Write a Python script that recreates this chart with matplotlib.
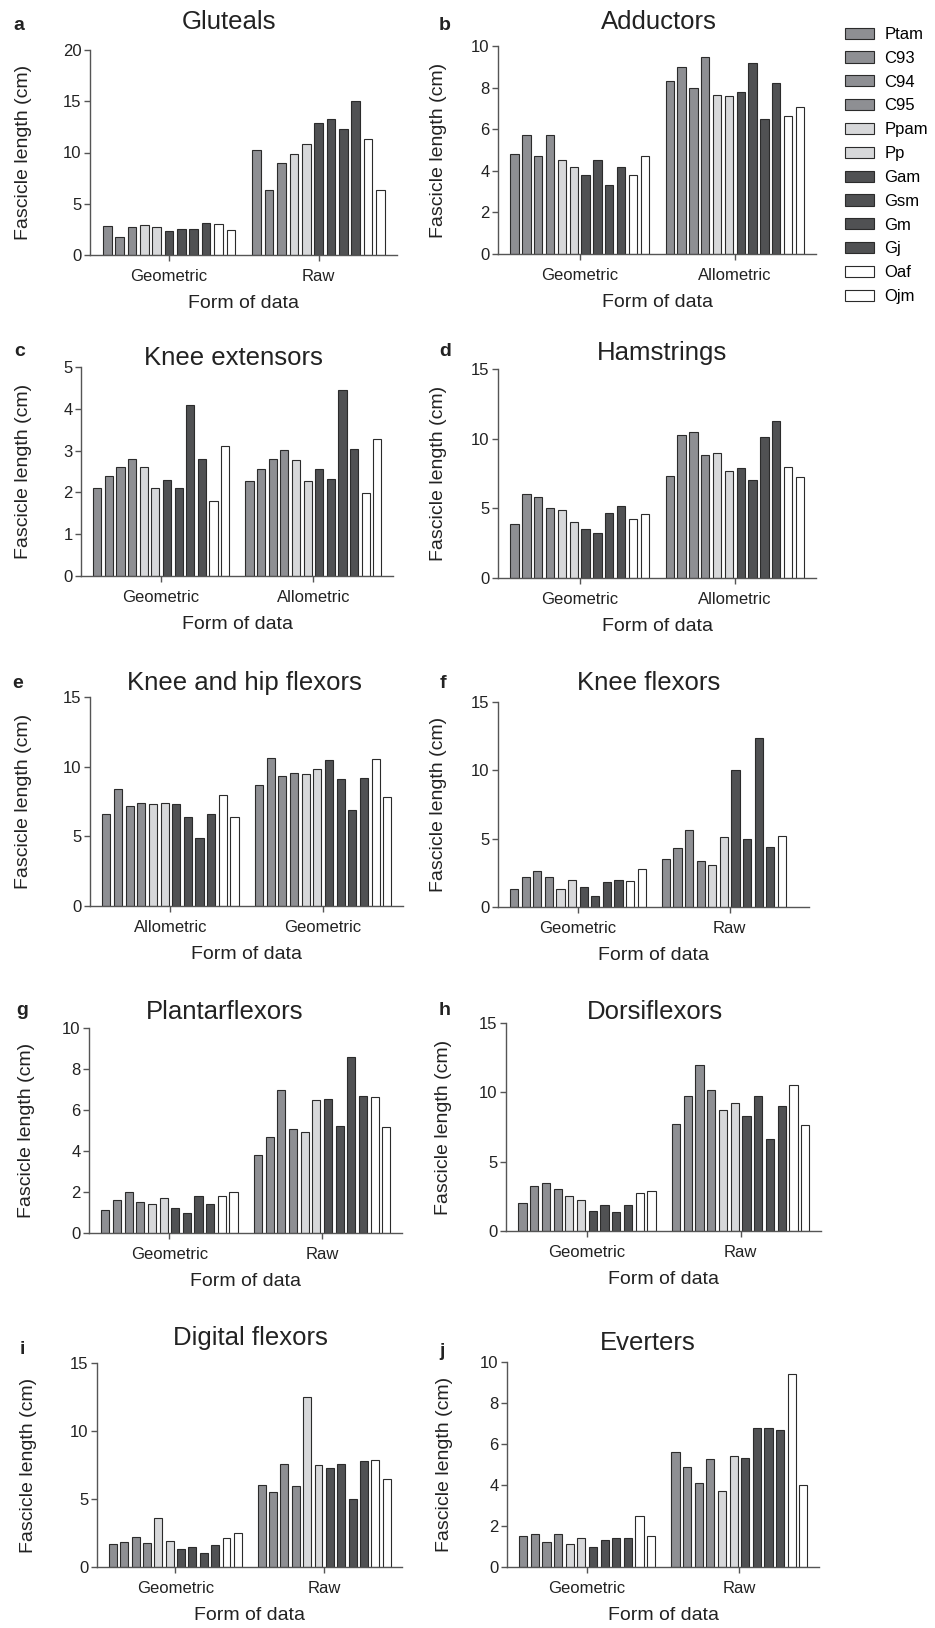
import numpy as np
import matplotlib
matplotlib.use("Agg")
import matplotlib.pyplot as plt

plt.rcParams['font.family'] = ['Liberation Sans', 'DejaVu Sans']

nan = np.nan

# ------------------ data ------------------
species = ['Ptam', 'C93', 'C94', 'C95', 'Ppam', 'Pp',
           'Gam', 'Gsm', 'Gm', 'Gj', 'Oaf', 'Ojm']
MID, LIGHT, DARK, WHITE = '#8e8f93', '#d7d8da', '#505153', '#ffffff'
species_colors = [MID] * 4 + [LIGHT] * 2 + [DARK] * 4 + [WHITE] * 2

gluteals_groups = ['Geometric', 'Raw']
gluteals_geo = [2.8, 1.8, 2.7, nan, 2.9, 2.7, 2.3, 2.5, 2.5, 3.1, 3.0, 2.4]
gluteals_raw = [10.2, 6.3, 9.0, nan, 9.9, 10.8, 12.9, 13.3, 12.3, 15.0, 11.3, 6.3]

adductors_groups = ['Geometric', 'Allometric']
adductors_geo = [4.8, 5.7, 4.7, 5.7, 4.5, 4.2, 3.8, 4.5, 3.3, 4.2, 3.8, 4.7]
adductors_allo = [8.3, 9.0, 8.0, 9.45, 7.65, 7.62, 7.8, 9.2, 6.5, 8.2, 6.65, 7.05]

kneeext_groups = ['Geometric', 'Allometric']
kneeext_geo = [2.1, 2.4, 2.6, 2.8, 2.6, 2.1, 2.3, 2.1, 4.1, 2.8, 1.8, 3.1]
kneeext_allo = [2.28, 2.56, 2.8, 3.02, 2.77, 2.28, 2.55, 2.31, 4.46, 3.04, 1.99, 3.27]

hams_groups = ['Geometric', 'Allometric']
hams_geo = [3.9, 6.0, 5.8, 5.0, 4.9, 4.0, 3.5, 3.2, 4.7, 5.2, 4.2, 4.6]
hams_allo = [7.3, 10.25, 10.5, 8.85, 8.95, 7.7, 7.9, 7.05, 10.15, 11.25, 7.95, 7.25]

kneehip_groups = ['Allometric', 'Geometric']
kneehip_allo = [6.6, 8.4, 7.2, 7.4, 7.3, 7.4, 7.3, 6.4, 4.9, 6.6, 8.0, 6.4]
kneehip_geo = [8.7, 10.6, 9.35, 9.55, 9.45, 9.85, 10.45, 9.1, 6.9, 9.2, 10.55, 7.8]

kneeflex_groups = ['Geometric', 'Raw']
kneeflex_geo = [1.3, 2.2, 2.6, 2.2, 1.3, 2.0, 1.5, 0.8, 1.8, 2.0, 1.9, 2.8]
kneeflex_raw = [3.5, 4.3, 5.6, 3.4, 3.1, 5.1, 10.0, 5.0, 12.4, 4.4, 5.2, nan]

plantar_groups = ['Geometric', 'Raw']
plantar_geo = [1.1, 1.6, 2.0, 1.5, 1.4, 1.7, 1.2, 1.0, 1.8, 1.4, 1.8, 2.0]
plantar_raw = [3.8, 4.7, 7.0, 5.05, 4.93, 6.5, 6.55, 5.22, 8.6, 6.68, 6.65, 5.17]

dorsi_groups = ['Geometric', 'Raw']
dorsi_geo = [2.0, 3.25, 3.45, 3.05, 2.5, 2.25, 1.45, 1.85, 1.35, 1.85, 2.75, 2.85]
dorsi_raw = [7.7, 9.75, 11.95, 10.2, 8.7, 9.2, 8.3, 9.75, 6.6, 9.05, 10.55, 7.65]

digital_groups = ['Geometric', 'Raw']
digital_geo = [1.7, 1.85, 2.2, 1.8, 3.6, 1.9, 1.3, 1.5, 1.0, 1.6, 2.1, 2.5]
digital_raw = [6.0, 5.55, 7.6, 5.95, 12.5, 7.5, 7.25, 7.6, 5.0, 7.8, 7.9, 6.45]

everters_groups = ['Geometric', 'Raw']
everters_geo = [1.5, 1.6, 1.2, 1.6, 1.1, 1.4, 1.0, 1.3, 1.4, 1.4, 2.5, 1.5]
everters_raw = [5.62, 4.9, 4.12, 5.27, 3.72, 5.4, 5.3, 6.8, 6.8, 6.7, 9.4, 4.0]

panels = [
    ('a', 'Gluteals', gluteals_groups, [gluteals_geo, gluteals_raw], 20, 5),
    ('b', 'Adductors', adductors_groups, [adductors_geo, adductors_allo], 10, 2),
    ('c', 'Knee extensors', kneeext_groups, [kneeext_geo, kneeext_allo], 5, 1),
    ('d', 'Hamstrings', hams_groups, [hams_geo, hams_allo], 15, 5),
    ('e', 'Knee and hip flexors', kneehip_groups, [kneehip_allo, kneehip_geo], 15, 5),
    ('f', 'Knee flexors', kneeflex_groups, [kneeflex_geo, kneeflex_raw], 15, 5),
    ('g', 'Plantarflexors', plantar_groups, [plantar_geo, plantar_raw], 10, 2),
    ('h', 'Dorsiflexors', dorsi_groups, [dorsi_geo, dorsi_raw], 15, 5),
    ('i', 'Digital flexors', digital_groups, [digital_geo, digital_raw], 15, 5),
    ('j', 'Everters', everters_groups, [everters_geo, everters_raw], 10, 2),
]

# ------------------ layout (pixels) ------------------
W, H = 935, 1628
# left, right, top, bottom of each axes
ax_px = [(90, 397, 50, 255), (498, 816, 46, 254),
         (81, 393, 367, 576), (498, 816, 369, 578),
         (90, 403, 697, 906), (498, 809, 702, 907),
         (89, 402, 1028, 1233), (506, 821, 1023, 1231),
         (97, 402, 1363, 1567), (507, 819, 1362, 1567)]
title_px = [(229, 22), (659, 22), (233, 358), (662, 353), (244, 683),
            (649, 683), (225, 1012), (655, 1012), (250, 1338), (648, 1343)]
letter_px = [(19, 25), (445, 25), (20, 351), (445, 351), (18, 684),
             (443, 684), (22, 1010), (445, 1010), (22, 1350), (442, 1352)]
ylab_px = [32, 447, 32, 447, 32, 447, 35, 452, 37, 453]

fig = plt.figure(figsize=(W / 100, H / 100), dpi=100)
EDGE = '#2b2b2b'
AXC = '#555555'

handles = None
for k, (letter, title, groups, vals, ymax, ystep) in enumerate(panels):
    l, r, t, b = ax_px[k]
    ax = fig.add_axes([l / W, 1 - b / H, (r - l) / W, (b - t) / H])
    data = np.array(vals, dtype=float)
    # drop series absent from every group
    keep = [i for i in range(len(species)) if not np.all(np.isnan(data[:, i]))]
    n = len(keep)
    p = 1.0 / (n + 1.1)
    bars = []
    for j, i in enumerate(keep):
        x = np.arange(len(groups)) - n * p / 2 + (j + 0.5) * p
        bc = ax.bar(x, np.nan_to_num(data[:, i]), width=0.7 * p,
                    color=species_colors[i], edgecolor=EDGE, linewidth=0.8,
                    label=species[i])
        for rect, v in zip(bc, data[:, i]):
            if np.isnan(v):
                rect.set_visible(False)
        bars.append(bc)
    if handles is None and len(bars) == 12:
        handles = bars
    ax.set_xlim(-n * p / 2 - 0.9 * p, 1 + n * p / 2 + 0.85 * p)
    ax.set_ylim(0, ymax)
    ax.set_yticks(np.arange(0, ymax + 0.01, ystep))
    ax.set_xticks(range(len(groups)))
    ax.set_xticklabels(groups)
    for s in ['top', 'right']:
        ax.spines[s].set_visible(False)
    for s in ['left', 'bottom']:
        ax.spines[s].set_color(AXC)
        ax.spines[s].set_linewidth(1.0)
    ax.tick_params(axis='both', colors=AXC, labelcolor='#222222',
                   labelsize=12, length=4, width=1.0)
    ax.tick_params(axis='x', pad=6)
    ax.tick_params(axis='y', pad=2)
    ax.set_xlabel('Form of data', fontsize=14, color='#222222', labelpad=8)
    ax.set_ylabel('Fascicle length (cm)', fontsize=14, color='#222222')
    ax.yaxis.set_label_coords(ylab_px[k] / W, 1 - (t + b) / 2 / H,
                              transform=fig.transFigure)
    tx, ty = title_px[k]
    fig.text(tx / W, 1 - ty / H, title, fontsize=18.5, color='#222222',
             ha='center', va='center')
    lx, ly = letter_px[k]
    fig.text(lx / W, 1 - ly / H, letter, fontsize=14, fontweight='bold',
             color='#222222', ha='center', va='center')

fig.legend(handles, species, loc='upper left',
           bbox_to_anchor=(845 / W, 1 - 27 / H), frameon=False,
           fontsize=12, handlelength=1.75, handleheight=0.66,
           handletextpad=0.6, labelspacing=0.53, borderaxespad=0,
           borderpad=0)

fig.savefig('out.png', dpi=100)
